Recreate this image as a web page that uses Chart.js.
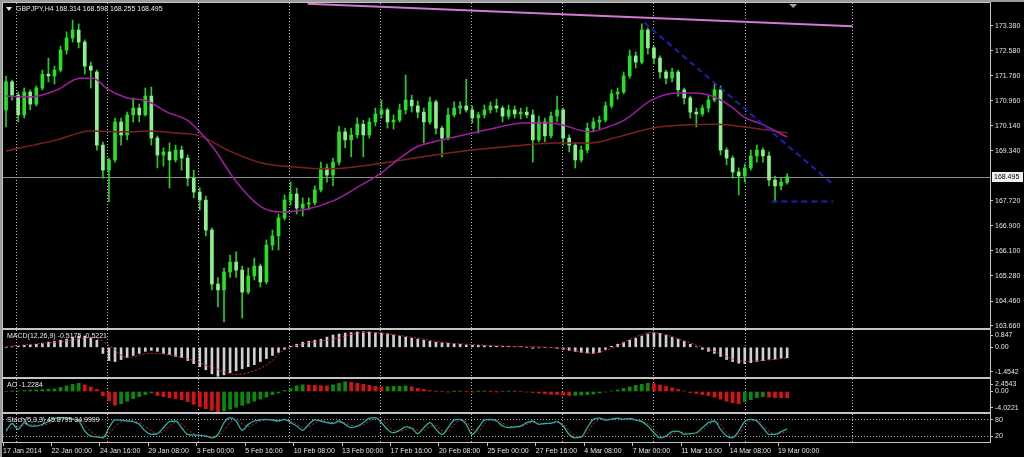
<!DOCTYPE html>
<html>
<head>
<meta charset="utf-8">
<script src="https://cdn.jsdelivr.net/npm/chart.js@4.4.1/dist/chart.umd.min.js"></script>
<style>
  html, body { margin: 0; padding: 0; background: #000; }
  #wrap { position: relative; width: 1024px; height: 457px; overflow: hidden; background: #000; box-shadow: inset 2px 2px 0 #9a9a9a; }
  #wrap canvas { position: absolute; left: 0; }
</style>
</head>
<body>
<div id="wrap">
  <canvas id="main" width="1024" height="330" style="top:0"></canvas>
  <canvas id="macd" width="1024" height="52" style="top:328px"></canvas>
  <canvas id="ao" width="1024" height="37" style="top:377px"></canvas>
  <canvas id="stoch" width="1024" height="45" style="top:412px"></canvas>
</div>
<script>
// GBPJPY H4 - one slot = one candle (2 H4 bars each)
const symbolTitle = 'GBPJPY,H4 168.314 168.598 168.255 168.495';
const macdTitle = 'MACD(12,26,9) -0.5175 -0.5221';
const aoTitle = 'AO -1.2284';
const stochTitle = 'Stoch(5,3,3) 45.8795 34.9999';

const timeLabels = ['17 Jan 2014', '22 Jan 00:00', '24 Jan 16:00', '29 Jan 08:00', '3 Feb 00:00', '5 Feb 16:00',
  '10 Feb 08:00', '13 Feb 00:00', '17 Feb 16:00', '20 Feb 08:00', '25 Feb 00:00', '27 Feb 16:00', '4 Mar 08:00',
  '7 Mar 00:00', '11 Mar 16:00', '14 Mar 08:00', '19 Mar 00:00'];
const labelEvery = 8;
const weekLines = [1.65, 16.7, 31.75, 46.8, 61.85, 76.9, 91.95, 107.0, 122.05, 139.8];
const slotCount = 163;

const priceTicks = [163.66, 164.46, 165.28, 166.10, 166.90, 167.72, 169.34, 170.14, 170.96, 171.76, 172.58, 173.38];
const priceMin = 163.595;
const priceMax = 174.125;

const opens = [170.66, 171.57, 171.14, 170.50, 171.24, 170.85, 171.37, 171.82, 171.76, 171.95,
  172.60, 172.99, 173.25, 172.86, 172.08, 171.89, 169.52, 168.71, 169.04, 170.27,
  169.85, 170.50, 170.72, 170.50, 171.11, 169.75, 169.20, 169.30, 169.04, 169.36,
  169.10, 168.45, 168.00, 167.74, 166.77, 165.02, 164.83, 165.41, 165.73, 165.47,
  164.76, 165.28, 165.60, 165.09, 166.28, 166.58, 167.16, 167.74, 167.94, 167.48,
  167.61, 167.65, 168.07, 168.78, 168.55, 168.97, 169.95, 169.69, 169.85, 170.20,
  169.85, 170.27, 170.53, 170.66, 170.27, 170.33, 170.66, 170.98, 170.79, 170.59,
  170.27, 170.92, 170.07, 169.75, 170.50, 170.72, 170.79, 170.66, 170.40, 170.50,
  170.66, 170.79, 170.72, 170.46, 170.66, 170.53, 170.59, 170.50, 169.69, 170.27,
  169.82, 170.46, 170.66, 169.75, 169.52, 169.04, 169.36, 170.07, 170.27, 170.33,
  170.79, 171.18, 171.24, 171.76, 172.41, 172.21, 173.25, 172.67, 172.34, 171.89,
  171.69, 171.89, 171.31, 171.05, 170.59, 170.53, 170.72, 170.98, 171.31, 169.36,
  169.10, 168.65, 168.52, 168.78, 169.17, 169.36, 169.17, 168.39, 168.20, 168.314];
const highs = [171.76, 171.63, 171.24, 171.37, 171.31, 171.44, 171.95, 172.34, 172.08, 172.73,
  173.19, 173.57, 173.45, 172.93, 172.21, 171.95, 169.62, 169.10, 170.40, 170.40,
  170.59, 171.05, 170.85, 171.37, 171.40, 169.82, 169.43, 169.59, 169.52, 169.49,
  169.20, 168.71, 168.13, 167.87, 166.83, 165.23, 165.54, 165.96, 166.06, 165.60,
  165.54, 165.86, 165.67, 166.45, 166.77, 167.29, 167.91, 168.32, 168.13, 167.81,
  167.81, 168.20, 168.97, 168.91, 169.10, 170.14, 170.07, 170.07, 170.40, 170.33,
  170.40, 170.72, 170.98, 170.72, 170.50, 170.85, 171.79, 171.14, 170.95, 170.72,
  171.08, 170.98, 170.14, 170.72, 170.92, 170.92, 171.66, 170.79, 170.59, 170.82,
  170.92, 171.01, 170.79, 170.82, 170.79, 170.72, 170.75, 170.66, 170.46, 170.40,
  170.59, 171.11, 170.72, 169.85, 169.59, 169.49, 170.24, 170.40, 170.46, 170.92,
  171.31, 171.37, 171.89, 172.60, 172.54, 173.45, 173.31, 172.73, 172.41, 171.95,
  172.02, 171.95, 171.37, 171.11, 170.72, 170.82, 171.11, 171.53, 171.44, 169.43,
  169.17, 168.78, 168.91, 169.36, 169.52, 169.43, 169.30, 168.52, 168.45, 168.598];
const lows = [170.11, 170.98, 170.27, 170.40, 170.66, 170.79, 171.31, 171.57, 171.50, 171.89,
  172.47, 172.86, 172.67, 171.82, 171.37, 169.36, 168.45, 167.68, 168.97, 169.52,
  169.69, 170.27, 170.27, 170.46, 169.52, 168.78, 168.84, 168.13, 168.97, 168.71,
  168.20, 167.81, 167.42, 166.58, 164.83, 164.28, 163.79, 165.23, 165.23, 163.92,
  164.70, 165.15, 164.92, 165.02, 166.12, 166.12, 167.09, 167.58, 167.29, 167.22,
  167.42, 167.58, 168.00, 168.32, 168.20, 168.88, 169.43, 169.14, 169.75, 169.14,
  169.75, 170.14, 170.40, 170.07, 170.04, 170.27, 170.53, 170.59, 170.40, 169.59,
  170.20, 169.88, 169.14, 169.69, 170.43, 170.53, 170.59, 170.24, 169.91, 170.40,
  170.56, 170.59, 170.27, 170.37, 170.40, 170.37, 170.40, 168.97, 169.62, 169.62,
  169.75, 170.27, 169.52, 169.30, 168.78, 168.97, 169.27, 169.95, 170.04, 170.27,
  170.72, 171.01, 171.18, 171.69, 172.02, 172.15, 172.47, 172.15, 171.69, 171.50,
  171.57, 171.11, 170.85, 170.40, 170.11, 170.46, 170.59, 170.92, 169.20, 168.88,
  168.45, 167.91, 168.32, 168.71, 168.97, 168.97, 168.20, 167.68, 168.07, 168.255];
const closes = [171.57, 171.14, 170.50, 171.24, 170.85, 171.37, 171.82, 171.76, 171.95, 172.60,
  172.99, 173.25, 172.86, 172.08, 171.95, 169.52, 168.71, 169.04, 170.27, 169.85,
  170.50, 170.72, 170.50, 171.11, 169.75, 169.20, 169.30, 169.04, 169.36, 169.10,
  168.45, 168.00, 167.74, 166.77, 165.02, 164.83, 165.41, 165.73, 165.47, 164.76,
  165.28, 165.60, 165.09, 166.28, 166.58, 167.16, 167.74, 167.94, 167.48, 167.61,
  167.65, 168.07, 168.78, 168.55, 168.97, 169.95, 169.69, 169.85, 170.20, 169.85,
  170.27, 170.53, 170.66, 170.27, 170.33, 170.66, 170.98, 170.79, 170.59, 170.27,
  170.92, 170.07, 169.75, 170.50, 170.72, 170.79, 170.66, 170.40, 170.50, 170.66,
  170.79, 170.72, 170.46, 170.66, 170.53, 170.59, 170.50, 169.69, 170.27, 169.82,
  170.46, 170.66, 169.75, 169.52, 169.04, 169.36, 170.07, 170.27, 170.33, 170.79,
  171.18, 171.24, 171.76, 172.41, 172.21, 173.25, 172.67, 172.34, 171.89, 171.69,
  171.89, 171.31, 171.05, 170.59, 170.53, 170.72, 170.98, 171.31, 169.36, 169.10,
  168.65, 168.52, 168.78, 169.17, 169.36, 169.17, 168.39, 168.20, 168.32, 168.495];

// moving averages, [slot, price]
const maFast = [[0, 171.11], [4, 171.08], [8.4, 171.31], [12.2, 171.69], [14.4, 171.69], [16.7, 171.34], [20, 171.05],
  [23.3, 170.95], [26.6, 170.59], [29.9, 170.33], [32, 169.95], [34.5, 169.36], [37.8, 168.39], [42.2, 167.51],
  [45.5, 167.35], [49.8, 167.45], [54.3, 167.74], [58.7, 168.23], [62, 168.62], [64.2, 168.97], [67.8, 169.46],
  [70.5, 169.62], [77, 169.91], [81.5, 170.11], [85.3, 170.24], [89.8, 170.24], [91.9, 170.17], [96.4, 169.95],
  [98.8, 170.07], [102.1, 170.33], [106.6, 170.98], [110.9, 171.21], [113.7, 171.21], [117, 171.08], [119.8, 170.76],
  [121.9, 170.43], [125.2, 170.17], [129, 169.78]];
const maSlow = [[0, 169.33], [4.5, 169.52], [8.4, 169.69], [13.9, 169.98], [20, 169.95], [23.8, 169.98], [28.2, 169.91],
  [32, 169.82], [36.6, 169.36], [42.2, 168.94], [47.7, 168.81], [53.1, 168.75], [58.7, 168.84], [63.4, 168.97],
  [68.8, 169.14], [77, 169.36], [85.3, 169.52], [90.9, 169.59], [96.4, 169.59], [101, 169.78], [106.6, 170.07],
  [112, 170.17], [117.5, 170.20], [121.9, 170.11], [125.7, 170.01], [129, 169.91]];

// hand drawn objects
const pinkLine = [[49.8, 174.10], [139.8, 173.37]];
const blueLine = [[105.4, 173.49], [136.3, 168.29]];
const supportLine = [[126.4, 167.69], [136.6, 167.69]];

// MACD
const macdHist = [0.0, 0.02, 0.05, 0.1, 0.12, 0.15, 0.2, 0.25, 0.3, 0.35, 0.4, 0.5, 0.55, 0.55, 0.45, 0.35,
  -0.3, -0.65, -0.7, -0.6, -0.5, -0.4, -0.3, -0.2, -0.15, -0.2, -0.3, -0.35, -0.45, -0.5,
  -0.65, -0.8, -0.95, -1.1, -1.3, -1.42, -1.35, -1.25, -1.15, -1.05, -0.95, -0.85, -0.7, -0.55, -0.4, -0.25,
  -0.1, 0.05, 0.15, 0.25, 0.3, 0.35, 0.4, 0.5, 0.6, 0.65, 0.7, 0.72, 0.75, 0.76, 0.75, 0.72, 0.7,
  0.67, 0.6, 0.55, 0.5, 0.45, 0.4, 0.35, 0.3, 0.25, 0.22, 0.2, 0.18, 0.15, 0.12, 0.1, 0.1, 0.08, 0.07, 0.05, 0.05, 0.04,
  0.03, 0.02, 0.0, -0.05, -0.03, 0.0, 0.0, -0.05, -0.1, -0.15, -0.2, -0.25, -0.28, -0.3, -0.25, -0.1, 0.05,
  0.15, 0.25, 0.35, 0.45, 0.55, 0.65, 0.73, 0.68, 0.6, 0.5, 0.4, 0.3, 0.15, 0.02,
  -0.1, -0.2, -0.3, -0.45, -0.6, -0.7, -0.78, -0.8, -0.75, -0.7, -0.65, -0.6, -0.58, -0.55, -0.5175];
const macdSignal = [[0, 0.04], [10, 0.31], [14.4, 0.49], [17, 0.1], [20, -0.51], [23.8, -0.29], [29.3, -0.51],
  [34.8, -1.06], [37.5, -1.33], [43, -0.87], [45.8, -0.15], [48.5, 0.13], [54, 0.40], [59.4, 0.73], [65, 0.58],
  [73, 0.22], [81.5, 0.07], [91.7, -0.05], [96.7, -0.29], [100, -0.05], [103.8, 0.49], [106.6, 0.73], [112, 0.31],
  [116.5, -0.15], [122, -0.69], [129, -0.5221]];
const macdTickAt = [-1.2, 0, 0.6];
const macdTickText = ['-1.4542', '0.00', '0.847'];

// Awesome oscillator
const aoValues = [0.0, 0.05, 0.1, 0.2, 0.3, 0.35, 0.4, 0.45, 0.5, 0.8, 1.1, 1.4, 1.6, 1.3, 0.9, 0.4,
  -0.8, -1.8, -2.7, -2.4, -1.9, -1.4, -1.0, -0.6, -0.3, -0.8, -1.0, -1.2, -1.4, -1.6, -2.0,
  -2.5, -3.0, -3.4, -3.7, -3.96, -3.8, -3.5, -3.1, -2.7, -2.3, -1.9, -1.5, -1.1, -0.6,
  -0.3, 0.2, 0.6, 1.1, 1.3, 1.25, 1.2, 1.15, 1.1, 1.3, 1.6, 1.9, 1.8, 1.6, 1.4, 1.2, 1.0, 0.9,
  0.95, 1.0, 1.05, 1.1, 0.9, 0.6, 0.4, 0.2, 0.05,
  0.0, -0.05, 0.02, 0.05, 0.0, -0.05, 0.03, 0.05, 0.02, -0.02, 0.0, 0.05, 0.03, 0.0, -0.1,
  -0.2, -0.3, -0.45, -0.55, -0.6, -0.7, -0.8, -0.75, -0.7, -0.6, -0.5, -0.3, -0.1, 0.1, 0.3,
  0.6, 0.9, 1.2, 1.4, 1.6, 1.55, 1.3, 1.0, 0.7, 0.4, 0.1,
  -0.2, -0.4, -0.6, -0.8, -1.1, -1.5, -1.9, -2.2, -2.4, -2.0, -1.6, -1.2, -1.0, -1.1, -1.2, -1.22, -1.2284];
const aoTickAt = [-3.2, 0, 1.4];
const aoTickText = ['-4.0221', '0.00', '2.4543'];

// Stochastic
const stochK = [39, 66, 45, 69, 57, 57, 63, 73, 84, 87, 85, 81, 75, 39, 21, 18, 15, 51, 79, 78,
  75, 73, 63, 39, 27, 30, 51, 73, 75, 51, 27, 25, 24, 21, 15, 27, 69, 87, 75, 42,
  63, 75, 79, 81, 78, 75, 81, 69, 57, 42, 63, 79, 75, 69, 66, 75, 63, 51, 57, 69,
  85, 87, 69, 45, 33, 42, 54, 49, 30, 51, 69, 45, 27, 51, 78, 81, 63, 27, 51, 78,
  81, 75, 57, 51, 54, 57, 69, 75, 63, 66, 67, 73, 57, 27, 15, 18, 51, 81, 85, 78,
  82, 85, 81, 84, 78, 73, 57, 33, 15, 21, 37, 39, 27, 30, 33, 51, 69, 75, 45, 21,
  15, 39, 73, 81, 75, 51, 27, 27, 37, 45.88];
const stochD = [45, 52, 56, 60, 62, 60, 59, 66, 76, 84, 86, 84, 79, 60, 38, 24, 18, 30, 55, 72,
  77, 75, 70, 55, 40, 31, 38, 55, 70, 65, 45, 30, 25, 23, 19, 21, 42, 70, 79, 65,
  55, 65, 75, 79, 80, 77, 78, 75, 65, 52, 54, 68, 74, 73, 68, 70, 68, 60, 56, 61,
  74, 83, 78, 60, 42, 38, 45, 50, 42, 40, 55, 58, 40, 38, 62, 77, 72, 45, 40, 64,
  78, 78, 68, 56, 53, 55, 63, 70, 68, 66, 66, 70, 65, 40, 22, 17, 32, 65, 80, 82,
  81, 83, 83, 83, 80, 76, 65, 45, 25, 18, 28, 37, 33, 29, 31, 42, 60, 72, 62, 33,
  18, 27, 56, 77, 78, 62, 39, 27, 32, 35.0];
const stochTickAt = [20, 80];
const stochTickText = ['20', '80'];

const FONT = '"Liberation Sans", Arial, sans-serif';
Chart.defaults.font.family = FONT;
Chart.defaults.font.size = 7;
Chart.defaults.color = '#e2e2e2';

const toXY = p => ({ x: p[0], y: p[1] });
const series = arr => arr.map((v, i) => ({ x: i, y: v }));

// frame + pane caption, drawn like the terminal does
const paneDecor = {
  id: 'paneDecor',
  afterDraw(chart, args, opts) {
    const { ctx, chartArea: a } = chart;
    ctx.save();
    ctx.strokeStyle = '#c4c4c4';
    ctx.lineWidth = 1;
    ctx.strokeRect(a.left - 0.5, a.top - 0.5, a.right - a.left + 1, a.bottom - a.top + 1);
    let tx = a.left + 4;
    if (opts.marker) {
      ctx.fillStyle = '#e8e8e8';
      ctx.beginPath();
      ctx.moveTo(a.left + 3, a.top + 4);
      ctx.lineTo(a.left + 9, a.top + 4);
      ctx.lineTo(a.left + 6, a.top + 8);
      ctx.closePath();
      ctx.fill();
      tx = a.left + 13;
    }
    ctx.fillStyle = '#e6e6e6';
    ctx.font = '7px ' + FONT;
    ctx.textBaseline = 'middle';
    ctx.fillText(opts.text, tx, a.top + 6);
    ctx.restore();
  }
};

const lastPrice = {
  id: 'lastPrice',
  beforeDatasetsDraw(chart) {
    const { ctx, chartArea: a, scales: { y } } = chart;
    const py = Math.round(y.getPixelForValue(closes[closes.length - 1])) + 0.5;
    ctx.save();
    ctx.strokeStyle = '#8a8a8a';
    ctx.lineWidth = 1;
    ctx.beginPath();
    ctx.moveTo(a.left, py);
    ctx.lineTo(a.right, py);
    ctx.stroke();
    ctx.restore();
  },
  afterDraw(chart) {
    const { ctx, chartArea: a, scales: { x, y } } = chart;
    const last = closes[closes.length - 1];
    const py = Math.round(y.getPixelForValue(last));
    ctx.save();
    ctx.fillStyle = '#f0f0f0';
    ctx.fillRect(a.right + 2, py - 5, 31, 10);
    ctx.fillStyle = '#000';
    ctx.font = '7px ' + FONT;
    ctx.textBaseline = 'middle';
    ctx.fillText(last.toFixed(3), a.right + 4, py);
    const mx = x.getPixelForValue(closes.length);
    ctx.fillStyle = '#9aa6b4';
    ctx.beginPath();
    ctx.moveTo(mx - 4, a.top + 1);
    ctx.lineTo(mx + 4, a.top + 1);
    ctx.lineTo(mx, a.top + 5);
    ctx.closePath();
    ctx.fill();
    ctx.restore();
  }
};

function xGrid() {
  return {
    type: 'linear', min: -0.5, max: slotCount - 0.5, offset: false,
    afterBuildTicks: s => { s.ticks = weekLines.map(v => ({ value: v })); },
    afterFit: s => { s.height = 0; s.paddingLeft = 0; s.paddingRight = 0; },
    ticks: { display: false },
    grid: { color: '#bdbdbd', offset: false, drawTicks: false },
    border: { display: false, dash: [1, 2] }
  };
}

function yAxis(min, max, tickAt, tickText, levels) {
  return {
    position: 'right', min: min, max: max,
    afterFit: s => { s.width = 34; s.paddingTop = 0; s.paddingBottom = 0; },
    afterBuildTicks: s => { s.ticks = tickAt.map(v => ({ value: v })); },
    ticks: { callback: (v, i) => tickText[i], padding: 2, autoSkip: false, color: '#e2e2e2' },
    grid: { drawOnChartArea: !!levels, color: '#a0a0a0', tickColor: '#c4c4c4', tickLength: 3 },
    border: { display: false, dash: levels ? [1, 2] : [] }
  };
}

const base = {
  responsive: false, animation: false, devicePixelRatio: 1,
  events: [],
  plugins: { legend: { display: false }, tooltip: { enabled: false } }
};

// price pane
new Chart(document.getElementById('main'), {
  type: 'bar',
  data: {
    datasets: [
      { type: 'line', data: pinkLine.map(toXY), borderColor: '#d27ad2', borderWidth: 2, pointRadius: 0, order: 1 },
      { type: 'line', data: blueLine.map(toXY), borderColor: '#1e1eb4', borderWidth: 2, borderDash: [6, 4], pointRadius: 0, order: 1 },
      { type: 'line', data: supportLine.map(toXY), borderColor: '#1e1eb4', borderWidth: 2, borderDash: [6, 4], pointRadius: 0, order: 1 },
      { type: 'line', data: maFast.map(toXY), borderColor: '#a21ca2', borderWidth: 1.5, pointRadius: 0, cubicInterpolationMode: 'monotone', order: 2 },
      { type: 'line', data: maSlow.map(toXY), borderColor: '#7c2020', borderWidth: 1.5, pointRadius: 0, cubicInterpolationMode: 'monotone', order: 2 },
      {
        data: closes.map((c, i) => ({ x: i, y: [opens[i], c] })),
        backgroundColor: closes.map((c, i) => c >= opens[i] ? '#26e026' : '#8cf08c'),
        barThickness: 3, minBarLength: 1, grouped: false, order: 3
      },
      {
        data: closes.map((c, i) => ({ x: i, y: [lows[i], highs[i]] })),
        backgroundColor: '#1ed21e', barThickness: 1, grouped: false, order: 4
      }
    ]
  },
  options: Object.assign({}, base, {
    layout: { padding: { left: 3, top: 3, bottom: 2, right: 0 } },
    scales: {
      x: xGrid(),
      y: yAxis(priceMin, priceMax, priceTicks, priceTicks.map(v => v.toFixed(3)), false)
    },
    plugins: Object.assign({}, base.plugins, { paneDecor: { text: symbolTitle, marker: true } })
  }),
  plugins: [paneDecor, lastPrice]
});

// MACD pane
new Chart(document.getElementById('macd'), {
  type: 'bar',
  data: {
    datasets: [
      { type: 'line', data: macdSignal.map(toXY), borderColor: '#e02020', borderWidth: 1, borderDash: [2, 2], pointRadius: 0, cubicInterpolationMode: 'monotone', order: 1 },
      { data: series(macdHist), backgroundColor: '#cfcfcf', barThickness: 2, grouped: false, order: 2 }
    ]
  },
  options: Object.assign({}, base, {
    layout: { padding: { left: 3, top: 2, bottom: 3, right: 0 } },
    scales: { x: xGrid(), y: yAxis(-1.4542, 0.847, macdTickAt, macdTickText, false) },
    plugins: Object.assign({}, base.plugins, { paneDecor: { text: macdTitle } })
  }),
  plugins: [paneDecor]
});

// AO pane
new Chart(document.getElementById('ao'), {
  type: 'bar',
  data: {
    datasets: [{
      data: series(aoValues),
      backgroundColor: aoValues.map((v, i) => i > 0 && v > aoValues[i - 1] ? '#0a8a0a' : '#d41414'),
      barThickness: 3, grouped: false
    }]
  },
  options: Object.assign({}, base, {
    layout: { padding: { left: 3, top: 2, bottom: 2, right: 0 } },
    scales: { x: xGrid(), y: yAxis(-4.0221, 2.4543, aoTickAt, aoTickText, false) },
    plugins: Object.assign({}, base.plugins, { paneDecor: { text: aoTitle } })
  }),
  plugins: [paneDecor]
});

// Stochastic pane, carries the time axis
new Chart(document.getElementById('stoch'), {
  type: 'line',
  data: {
    datasets: [
      { data: series(stochK), borderColor: '#20b2aa', borderWidth: 1.3, pointRadius: 0, cubicInterpolationMode: 'monotone' },
      { data: series(stochD), borderColor: '#e02020', borderWidth: 1, borderDash: [2, 2], pointRadius: 0, cubicInterpolationMode: 'monotone' }
    ]
  },
  options: Object.assign({}, base, {
    layout: { padding: { left: 3, top: 2, bottom: 0, right: 0 } },
    scales: {
      x: xGrid(),
      xl: {
        type: 'linear', position: 'bottom', min: -0.5, max: slotCount - 0.5, offset: false,
        afterBuildTicks: s => { s.ticks = timeLabels.map((t, k) => ({ value: k * labelEvery - 0.5 })); },
        afterFit: s => { s.height = 15; s.paddingLeft = 0; s.paddingRight = 0; },
        ticks: { callback: (v, i) => timeLabels[i], align: 'start', maxRotation: 0, autoSkip: false, padding: 1, color: '#e2e2e2' },
        grid: { drawOnChartArea: false, color: '#c4c4c4', tickLength: 4, offset: false },
        border: { display: false }
      },
      y: yAxis(0, 100, stochTickAt, stochTickText, true)
    },
    plugins: Object.assign({}, base.plugins, { paneDecor: { text: stochTitle } })
  }),
  plugins: [paneDecor]
});
</script>
</body>
</html>
